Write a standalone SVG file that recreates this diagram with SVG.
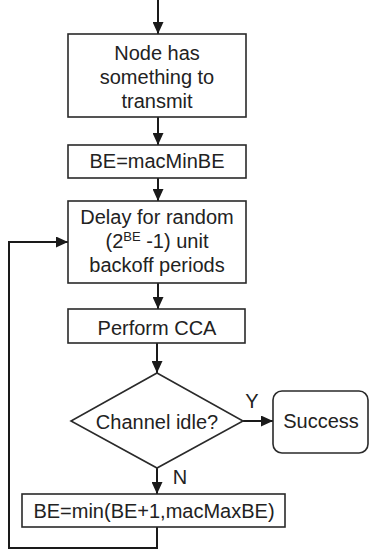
<svg xmlns="http://www.w3.org/2000/svg" width="370" height="550" viewBox="0 0 370 550">
<defs>
<marker id="arr" markerWidth="12" markerHeight="11" viewBox="0 0 12 11" refX="12" refY="5.5" markerUnits="userSpaceOnUse" orient="auto">
<path d="M0,0 L12,5.5 L0,11 Z" fill="#1a1a1a"/>
</marker>
<style>
.box{fill:#fff;stroke:#2a2a2a;stroke-width:1.6}
.t{font-family:"Liberation Sans",Arial,sans-serif;font-size:20px;fill:#222;text-anchor:middle}
.c{fill:none;stroke:#1a1a1a;stroke-width:2}
</style>
</defs>
<rect width="370" height="550" fill="#fff"/>
<g id="connectors">
<line class="c" x1="158" y1="0" x2="158" y2="34" marker-end="url(#arr)"/>
<line class="c" x1="158" y1="117" x2="158" y2="145" marker-end="url(#arr)"/>
<line class="c" x1="158" y1="178" x2="158" y2="201" marker-end="url(#arr)"/>
<line class="c" x1="158" y1="283" x2="158" y2="309" marker-end="url(#arr)"/>
<line class="c" x1="157" y1="343" x2="157" y2="373" marker-end="url(#arr)"/>
<line class="c" x1="243" y1="421" x2="273" y2="421" marker-end="url(#arr)"/>
<line class="c" x1="157" y1="468" x2="157" y2="494" marker-end="url(#arr)"/>
<polyline class="c" points="157,527 157,548 9,548 9,242 68,242" marker-end="url(#arr)"/>
<text class="t" x="252" y="408">Y</text>
<text class="t" x="180" y="484">N</text>
</g>
<g id="n1">
<rect class="box" x="68" y="34" width="178" height="83"/>
<text class="t" x="157" y="60">Node has</text>
<text class="t" x="157" y="84">something to</text>
<text class="t" x="157" y="108">transmit</text>
</g>
<g id="n2">
<rect class="box" x="68" y="145" width="178" height="33"/>
<text class="t" x="157" y="168">BE=macMinBE</text>
</g>
<g id="n3">
<rect class="box" x="68" y="201" width="178" height="82"/>
<text class="t" x="157" y="224">Delay for random</text>
<text class="t" x="157" y="248">(2<tspan font-size="13" dy="-7">BE</tspan><tspan dy="7"> -1) unit</tspan></text>
<text class="t" x="157" y="272">backoff periods</text>
</g>
<g id="n4">
<rect class="box" x="68" y="309" width="177" height="34"/>
<text class="t" x="157" y="335">Perform CCA</text>
</g>
<g id="n5">
<polygon class="box" points="157,373 243,421 157,468 71,421"/>
<text class="t" x="157" y="429">Channel idle?</text>
</g>
<g id="n6">
<rect class="box" x="273" y="391" width="95" height="62" rx="9"/>
<text class="t" x="321" y="428">Success</text>
</g>
<g id="n7">
<rect class="box" x="22" y="494" width="263" height="33"/>
<text class="t" x="154" y="518">BE=min(BE+1,macMaxBE)</text>
</g>
</svg>
